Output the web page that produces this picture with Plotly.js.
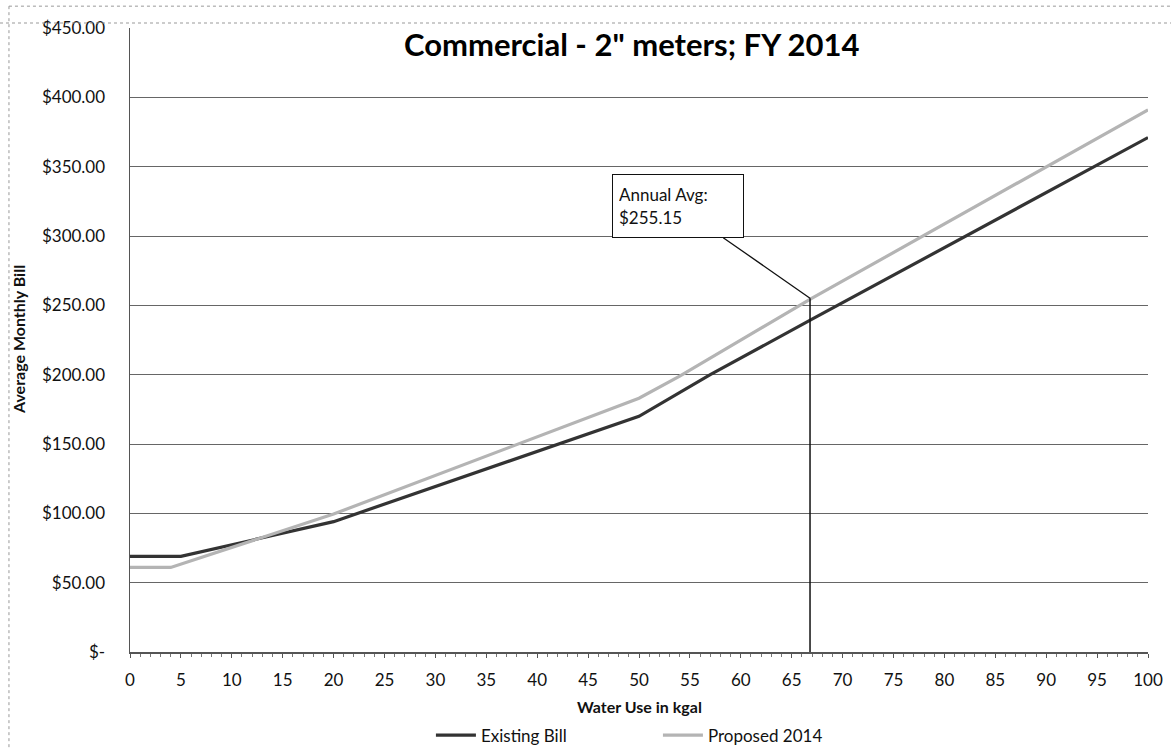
<!DOCTYPE html>
<html>
<head>
<meta charset="utf-8">
<script src="https://cdn.plot.ly/plotly-3.0.1.min.js"></script>
<style>html,body{margin:0;padding:0;background:#fff;}#chart{width:1171px;height:749px;}</style>
</head>
<body>
<div id="chart"></div>
<script>
// ---- data ----
const existingUse = [0, 5, 20, 50, 57, 67, 100];
const existingBill = [69, 69, 94, 170, 200, 240, 371];
const proposedUse = [0, 4, 20, 50, 54, 67, 100];
const proposedBill = [61, 61, 99.5, 183, 199, 255.15, 391];
const seriesNames = ["Existing Bill", "Proposed 2014"];
const annualAvgUse = 66.8;
const annualAvgBill = 255.15;
const yTickVals = [0, 50, 100, 150, 200, 250, 300, 350, 400, 450];
const yTickText = ["$-", "$50.00", "$100.00", "$150.00", "$200.00", "$250.00", "$300.00", "$350.00", "$400.00", "$450.00"];
const xTickVals = [0,5,10,15,20,25,30,35,40,45,50,55,60,65,70,75,80,85,90,95,100];

const FONT = "Lato, 'Open Sans', sans-serif";

const traces = [
  {x: existingUse, y: existingBill, name: seriesNames[0], mode: "lines",
   line: {color: "#333333", width: 3.2}},
  {x: proposedUse, y: proposedBill, name: seriesNames[1], mode: "lines",
   line: {color: "#b4b4b4", width: 3.2}}
];

const layout = {
  width: 1171, height: 749,
  margin: {l: 130, r: 23, t: 28, b: 97},
  paper_bgcolor: "#fff", plot_bgcolor: "#fff",
  font: {family: FONT, color: "#111", size: 16},
  showlegend: true,
  legend: {orientation: "h", xref: "container", yref: "container",
           x: 0.368, xanchor: "left", y: 0.042, yanchor: "top",
           font: {family: FONT, size: 17, color: "#111"},
           entrywidth: 172, entrywidthmode: "pixels", itemwidth: 40, tracegroupgap: 0},
  xaxis: {range: [0, 100], tickvals: xTickVals, ticktext: xTickVals.map(String),
          showgrid: false, zeroline: false, showline: true, linecolor: "#555", linewidth: 1.5,
          ticks: "outside", ticklen: 4, tickcolor: "#555",
          minor: {dtick: 1, ticks: "outside", ticklen: 3, tickcolor: "#777"},
          tickfont: {family: FONT, size: 17, color: "#111"}, ticklabelstandoff: 8},
  yaxis: {range: [0, 450], tickvals: yTickVals, ticktext: yTickText,
          showgrid: true, gridcolor: "#666", gridwidth: 1, zeroline: false,
          showline: true, linecolor: "#555", linewidth: 1.5, ticks: "",
          tickfont: {family: FONT, size: 17, color: "#111"}, ticklabelstandoff: 20},
  shapes: [
    {type: "line", xref: "x", yref: "y", x0: annualAvgUse, x1: annualAvgUse, y0: 0, y1: annualAvgBill,
     line: {color: "#111", width: 1.5}},
    {type: "line", xref: "paper", yref: "paper", x0: -0.1277, x1: 1.0226, y0: 1.008, y1: 1.008,
     line: {color: "#999", width: 1, dash: "dot"}},
    {type: "line", xref: "paper", yref: "paper", x0: -0.1189, x1: 1.0226, y0: 1.035, y1: 1.035,
     line: {color: "#999", width: 1, dash: "dot"}},
    {type: "line", xref: "paper", yref: "paper", x0: -0.1189, x1: -0.1189, y0: 1.035, y1: -0.16,
     line: {color: "#999", width: 1, dash: "dot"}}
  ],
  annotations: [
    {text: "<b>Commercial - 2\" meters; FY 2014</b>", xref: "paper", yref: "paper",
     x: 0.493, y: 0.974, xanchor: "center", yanchor: "middle", showarrow: false,
     font: {family: FONT, size: 31, color: "#000"}},
    {text: "<b>Average Monthly Bill</b>", xref: "paper", yref: "paper",
     x: -0.110, y: 0.5, xanchor: "center", yanchor: "middle", textangle: -90, showarrow: false,
     font: {family: FONT, size: 16, color: "#111"}},
    {text: "<b>Water Use in kgal</b>", xref: "paper", yref: "paper",
     x: 0.5, y: -0.088, xanchor: "center", yanchor: "middle", showarrow: false,
     font: {family: FONT, size: 16, color: "#111"}},
    {text: "Annual Avg:<br>$255.15", xref: "x", yref: "y", x: annualAvgUse, y: annualAvgBill,
     ax: -132, ay: -92, axref: "pixel", ayref: "pixel", showarrow: true, arrowhead: 0,
     arrowwidth: 1.3, arrowcolor: "#111", align: "left",
     bordercolor: "#111", borderwidth: 1, borderpad: 6, bgcolor: "#fff",
     width: 118, height: 50,
     font: {family: FONT, size: 17, color: "#111"}}
  ]
};

Plotly.newPlot("chart", traces, layout, {displayModeBar: false, staticPlot: true});
</script>
</body>
</html>
